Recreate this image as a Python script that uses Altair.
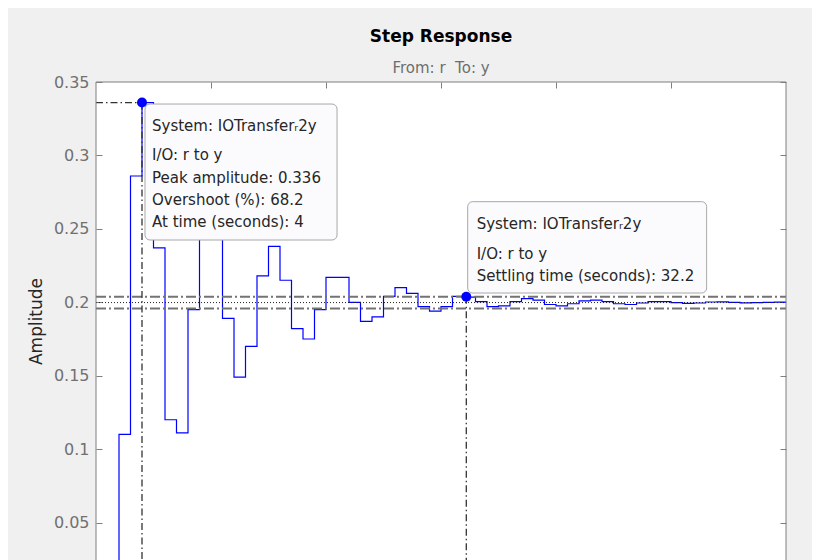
import altair as alt
import pandas as pd

# ---------------- data ----------------
time_s = list(range(0, 61))
amplitude = [0, 0, 0.110, 0.286, 0.336, 0.237, 0.120, 0.111, 0.195, 0.268, 0.262,
             0.189, 0.149, 0.170, 0.218, 0.238, 0.215, 0.182, 0.175, 0.195, 0.217,
             0.217, 0.200, 0.187, 0.190, 0.204, 0.210, 0.206, 0.197, 0.194, 0.197,
             0.204, 0.2035, 0.2005, 0.197, 0.1975, 0.2005, 0.2025, 0.2015, 0.1985, 0.1975,
             0.199, 0.201, 0.2015, 0.2005, 0.199, 0.1985, 0.1995, 0.2005, 0.2005, 0.1998,
             0.1992, 0.1995, 0.2002, 0.2003, 0.1999, 0.1996, 0.1997, 0.2000, 0.2001, 0.2000]

y_ticks = [0.05, 0.1, 0.15, 0.2, 0.25, 0.3, 0.35]
x_ticks = [10, 20, 30, 40, 50]

peak_time, peak_amp = 4, 0.336
settle_time, settle_amp = 32.2, 0.2038
final_value = 0.1998
band_hi, band_lo = 0.2038, 0.1958

box_x0 = [4.26, 32.32]
box_x1 = [20.96, 53.1]
box_y0 = [0.335, 0.2685]
box_y1 = [0.2424, 0.2063]

tip_x = [4.87, 4.87, 4.87, 4.87, 4.87, 33.1, 33.1, 33.1]
tip_y = [0.320, 0.3003, 0.2846, 0.2697, 0.2547, 0.2533, 0.2329, 0.2179]
tip_text = ["System: IOTransfer\u1d632y", "I/O: r to y", "Peak amplitude: 0.336",
            "Overshoot (%): 68.2", "At time (seconds): 4",
            "System: IOTransfer\u1d632y", "I/O: r to y", "Settling time (seconds): 32.2"]

# ---------------- layout ----------------
W, H = 690, 478
FONT = "DejaVu Sans"
FRAME = "#7f7f7f"
xs = alt.Scale(domain=[0, 60], nice=False, zero=False)
ys = alt.Scale(domain=[0.0245, 0.35], nice=False, zero=False)


def X(f, axis=None):
    return alt.X(f, type="quantitative", scale=xs, axis=axis)


def Y(f, axis=None):
    return alt.Y(f, type="quantitative", scale=ys, axis=axis)


top_axis = alt.Axis(orient="top", values=x_ticks, labels=False, domain=False,
                    tickSize=6, offset=-6, tickColor=FRAME, grid=False, title=None)
left_axis = alt.Axis(orient="left", values=y_ticks, domain=False, tickSize=6, offset=-6,
                     tickColor=FRAME, grid=False, labelExpr="'' + datum.value",
                     labelFont=FONT, labelFontSize=16, labelColor="#707070", labelPadding=7,
                     title="Amplitude", titleFont=FONT, titleFontSize=17,
                     titleFontWeight="normal", titleColor="#262626", titlePadding=8)
right_axis = alt.Axis(orient="right", values=y_ticks, labels=False, domain=False,
                      tickSize=6, offset=-6, tickColor=FRAME, grid=False, title=None)

step_df = pd.DataFrame({"t": time_s, "y": amplitude})

line = alt.Chart(step_df).mark_line(interpolate="step-after", color="#0000ff",
                                    strokeWidth=1.2, clip=True).encode(
    x=X("t", top_axis), y=Y("y", left_axis))

right = alt.Chart(pd.DataFrame({"y": y_ticks})).mark_point(opacity=0).encode(
    y=Y("y", right_axis))

band_df = pd.DataFrame({"x0": [0, 0], "x1": [60, 60], "y": [band_hi, band_lo]})
bands = alt.Chart(band_df).mark_rule(color="#737373", strokeWidth=2,
                                     strokeDash=[10, 3, 2, 3]).encode(
    x=X("x0"), x2="x1", y=Y("y"))

final_df = pd.DataFrame({"x0": [0], "x1": [60], "y": [final_value]})
final = alt.Chart(final_df).mark_rule(color="#222222", strokeWidth=1,
                                      strokeDash=[1, 2]).encode(
    x=X("x0"), x2="x1", y=Y("y"))

hpeak_df = pd.DataFrame({"x0": [0], "x1": [peak_time], "y": [peak_amp]})
hpeak = alt.Chart(hpeak_df).mark_rule(color="#333333", strokeWidth=1.3,
                                      strokeDash=[7, 3, 1.5, 3]).encode(
    x=X("x0"), x2="x1", y=Y("y"))

vert_df = pd.DataFrame({"x": [peak_time, settle_time], "y0": [peak_amp, settle_amp],
                        "y1": [0, 0]})
verts = alt.Chart(vert_df).mark_rule(color="#333333", strokeWidth=1.3,
                                     strokeDash=[7, 3, 1.5, 3], clip=True).encode(
    x=X("x"), y=Y("y0"), y2="y1")

pts_df = pd.DataFrame({"x": [peak_time, settle_time], "y": [peak_amp, settle_amp]})
pts = alt.Chart(pts_df).mark_point(filled=True, size=100, color="#0000ff",
                                   opacity=1).encode(x=X("x"), y=Y("y"))

box_df = pd.DataFrame({"x0": box_x0, "x1": box_x1, "y0": box_y0, "y1": box_y1})
boxes = alt.Chart(box_df).mark_rect(fill="#fbfbfd", stroke="#a8a8a8", strokeWidth=1,
                                    cornerRadius=5).encode(
    x=X("x0"), x2="x1", y=Y("y0"), y2="y1")

tip_df = pd.DataFrame({"x": tip_x, "y": tip_y, "label": tip_text})
tips = alt.Chart(tip_df).mark_text(align="left", baseline="middle", font=FONT,
                                   fontSize=15, color="#262626").encode(
    x=X("x"), y=Y("y"), text="label:N")

fr = pd.DataFrame({"k": [0]})
frame_l = alt.Chart(fr).mark_rule(color=FRAME, strokeWidth=1).encode(
    x=alt.value(0), y=alt.value(0), y2=alt.value(H))
frame_r = alt.Chart(fr).mark_rule(color=FRAME, strokeWidth=1).encode(
    x=alt.value(W), y=alt.value(0), y2=alt.value(H))
frame_t = alt.Chart(fr).mark_rule(color=FRAME, strokeWidth=1).encode(
    x=alt.value(0), x2=alt.value(W), y=alt.value(0))

chart = alt.layer(
    line, right, bands, final, hpeak, verts, boxes, tips, pts, frame_l, frame_r, frame_t
).resolve_axis(x="independent", y="independent").properties(
    width=W, height=H,
    autosize=alt.AutoSizeParams(type="none"),
    padding={"left": 88, "top": 74, "right": 26, "bottom": 0},
    background="#f0f0f0",
    title=alt.TitleParams(
        text="Step Response", subtitle="From: r\u00a0\u00a0To: y",
        font=FONT, fontSize=17, fontWeight="bold", color="#000000",
        subtitleFont=FONT, subtitleFontSize=15, subtitleColor="#6e6e6e",
        anchor="middle", offset=-3, subtitlePadding=15),
).configure_view(stroke=None, fill="white")

chart.save("out.html", embed_options={"renderer": "svg", "actions": False})
